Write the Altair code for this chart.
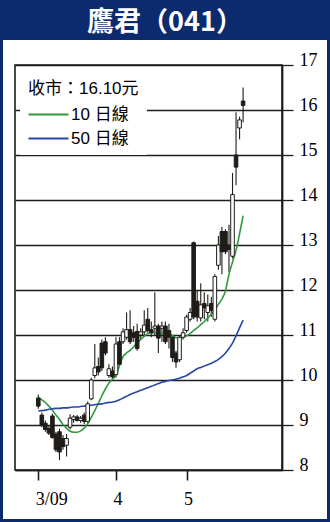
import altair as alt
import pandas as pd

# ---------------- data ----------------
days = list(range(59))
opens = [9.60, 9.22, 9.04, 8.92, 9.20, 8.80, 8.85, 8.70, 8.55, 8.95,
         9.12, 9.18, 9.10, 9.22, 9.08, 9.58, 10.10, 10.30, 10.82, 10.85,
         10.10, 10.20, 10.12, 10.85, 10.85, 10.95, 11.12, 11.05, 11.08, 11.00,
         11.07, 11.35, 11.12, 11.15, 11.20, 11.15, 11.20, 11.10, 10.95, 10.60,
         10.45, 10.95, 11.10, 11.35, 13.05, 11.75, 11.38, 11.70, 11.50, 11.70,
         11.35, 12.55, 13.30, 13.30, 13.00, 12.75, 15.00, 15.60, 16.20]
highs = [9.68, 9.28, 9.10, 8.98, 9.25, 8.85, 8.92, 8.78, 8.80, 9.24,
         9.22, 9.22, 9.20, 9.28, 9.52, 10.05, 10.80, 10.50, 10.90, 10.95,
         10.35, 10.30, 10.95, 10.95, 11.15, 11.50, 11.55, 11.20, 11.25, 11.15,
         11.55, 11.60, 11.30, 11.95, 11.25, 11.30, 11.30, 11.25, 11.00, 10.65,
         11.00, 11.15, 11.45, 11.60, 13.08, 12.00, 12.15, 11.95, 11.90, 11.85,
         12.35, 13.20, 13.40, 13.35, 13.45, 14.60, 15.95, 15.85, 16.50]
lows = [9.36, 8.95, 8.85, 8.78, 8.70, 8.40, 8.22, 8.45, 8.30, 8.90,
        9.05, 9.08, 9.05, 9.02, 9.05, 9.55, 10.04, 10.10, 10.20, 10.55,
        10.05, 10.00, 10.05, 10.30, 10.80, 10.90, 10.80, 10.85, 10.65, 10.90,
        11.00, 11.05, 10.95, 11.00, 10.60, 10.85, 10.80, 10.70, 10.40, 10.27,
        10.40, 10.90, 11.05, 11.30, 11.35, 11.30, 11.30, 11.35, 11.30, 11.40,
        11.30, 12.45, 12.35, 12.80, 12.40, 12.70, 14.33, 15.35, 15.73]
closes = [9.42, 9.00, 8.90, 8.82, 8.72, 8.45, 8.40, 8.52, 8.70, 9.15,
          9.18, 9.10, 9.15, 9.08, 9.47, 10.00, 10.27, 10.18, 10.27, 10.60,
          10.25, 10.07, 10.80, 10.35, 11.07, 11.12, 10.85, 10.95, 10.70, 11.07,
          11.22, 11.10, 11.05, 11.20, 10.93, 11.20, 10.85, 10.95, 10.50, 10.40,
          10.95, 11.05, 11.40, 11.50, 11.40, 11.40, 11.67, 11.60, 11.65, 11.55,
          12.30, 13.00, 12.85, 12.85, 12.90, 14.12, 14.73, 15.78, 16.10]
ma10 = [9.62, 9.56, 9.50, 9.42, 9.33, 9.22, 9.12, 9.01, 8.93, 8.86,
        8.84, 8.84, 8.87, 8.93, 9.03, 9.17, 9.32, 9.48, 9.65, 9.80,
        9.93, 10.02, 10.10, 10.32, 10.52, 10.60, 10.66, 10.74, 10.82, 10.90,
        10.97, 11.03, 11.05, 11.05, 11.03, 11.04, 11.07, 11.03, 10.99, 10.94,
        10.93, 10.95, 10.98, 11.03, 11.10, 11.16, 11.23, 11.30, 11.38, 11.46,
        11.56, 11.68, 11.80, 11.98, 12.35, 12.62, 12.88, 13.25, 13.65]
ma50 = [9.31, 9.32, 9.33, 9.35, 9.36, 9.37, 9.37, 9.38, 9.38, 9.39,
        9.40, 9.40, 9.41, 9.42, 9.43, 9.44, 9.45, 9.46, 9.47, 9.49,
        9.50, 9.51, 9.53, 9.56, 9.60, 9.64, 9.68, 9.71, 9.74, 9.77,
        9.80, 9.83, 9.86, 9.89, 9.92, 9.95, 9.97, 9.99, 10.00, 10.02,
        10.04, 10.07, 10.10, 10.15, 10.20, 10.25, 10.28, 10.31, 10.34, 10.37,
        10.41, 10.46, 10.52, 10.60, 10.70, 10.82, 10.98, 11.16, 11.33]
series_names = ["10 日線", "50 日線"]
tick_days = [0, 22, 42]
tick_labels = ["3/09", "4", "5"]
y_ticks = list(range(8, 18))
title_text = "鷹君（041）"
legend_title = "收市：16.10元"

# ---------------- styles ----------------
W, H = 267, 405
NAVY = "#0c2a6e"
INK = "#1f1c1a"
GREEN = "#2e9a3d"
BLUE = "#2747a6"
SANS = "Liberation Sans, Noto Sans CJK TC"
SERIF = "Liberation Serif"

candles = pd.DataFrame({"day": days, "open": opens, "high": highs,
                        "low": lows, "close": closes})
ma = pd.concat([
    pd.DataFrame({"day": days, "value": ma10, "series": series_names[0]}),
    pd.DataFrame({"day": days, "value": ma50, "series": series_names[1]}),
])

label_expr = " : ".join(
    f"datum.value == {d} ? '{t}'" for d, t in zip(tick_days[:-1], tick_labels[:-1])
) + f" : '{tick_labels[-1]}'"

xscale = alt.Scale(domain=[-5.18, 67.6], nice=False, zero=False)
yscale = alt.Scale(domain=[8, 17], nice=False, zero=False)
xax = alt.Axis(values=tick_days, labelExpr=label_expr, title=None, grid=False,
               tickSize=10, tickWidth=1.6, tickColor=INK, domainColor=INK,
               domainWidth=1.6, labelFont=SERIF, labelFontSize=18,
               labelColor="black", labelAlign="left", labelPadding=10,
               labelOffset=-3, labelFlush=False, labelOverlap=False)
yax = alt.Axis(orient="right", values=y_ticks, title=None, grid=True,
               gridColor=INK, gridWidth=1.3, gridOpacity=1, tickSize=11,
               tickWidth=1.3, tickColor=INK, domainColor=INK, domainWidth=1.8,
               labelFont=SERIF, labelFontSize=18, labelColor="black",
               labelBaseline="alphabetic", labelPadding=6, labelFlush=False)

X = alt.X("day:Q", scale=xscale, axis=xax)

one = pd.DataFrame({"k": [0]})
title_bar = alt.Chart(one).mark_rect(fill=NAVY).encode(
    x=alt.value(-15), x2=alt.value(W + 48), y=alt.value(-65), y2=alt.value(-25))
frame = alt.Chart(one).mark_rect(filled=False, stroke=NAVY, strokeWidth=6).encode(
    x=alt.value(-15), x2=alt.value(W + 48), y=alt.value(-65), y2=alt.value(H + 52))
title = alt.Chart(pd.DataFrame({"t": [title_text]})).mark_text(
    font="Noto Sans CJK TC", fontSize=27, fontWeight="bold", color="white",
    align="center", baseline="middle").encode(
    x=alt.value(150), y=alt.value(-42), text="t:N")

wicks = alt.Chart(candles).mark_rule(color=INK, strokeWidth=1.1).encode(
    x=X, y=alt.Y("low:Q", scale=yscale, axis=yax), y2="high:Q")
bodies = alt.Chart(candles).mark_bar(size=3.6, stroke=INK, strokeWidth=1).encode(
    x=X, y=alt.Y("open:Q", scale=yscale, axis=yax), y2="close:Q",
    fill=alt.condition("datum.close >= datum.open", alt.value("white"), alt.value(INK)))
lines = alt.Chart(ma).mark_line(strokeWidth=1.6, interpolate="monotone").encode(
    x=X, y=alt.Y("value:Q", scale=yscale, axis=yax),
    color=alt.Color("series:N", scale=alt.Scale(domain=series_names, range=[GREEN, BLUE]),
                    legend=alt.Legend(orient="none", legendX=5, legendY=8,
                                      title="\u00a0" + legend_title, titleFont=SANS,
                                      titleFontSize=17, titleFontWeight="normal",
                                      titleColor="black", titlePadding=8,
                                      labelFont=SANS, labelFontSize=17,
                                      labelColor="black", symbolType="M-2,0H8",
                                      symbolSize=64, symbolStrokeWidth=2,
                                      symbolFillColor="transparent",
                                      labelOffset=26, rowPadding=6, padding=8,
                                      fillColor="white")),
    detail="series:N")

chart = alt.layer(title_bar, frame, title, wicks, lines, bodies).properties(
    width=W, height=H,
    padding={"left": 15, "top": 65, "right": 48, "bottom": 52},
    autosize=alt.AutoSizeParams(type="none"),
    background="white",
).configure_view(stroke=INK, strokeWidth=1.6)

chart.save("out.html", embed_options={"renderer": "svg", "actions": False})
